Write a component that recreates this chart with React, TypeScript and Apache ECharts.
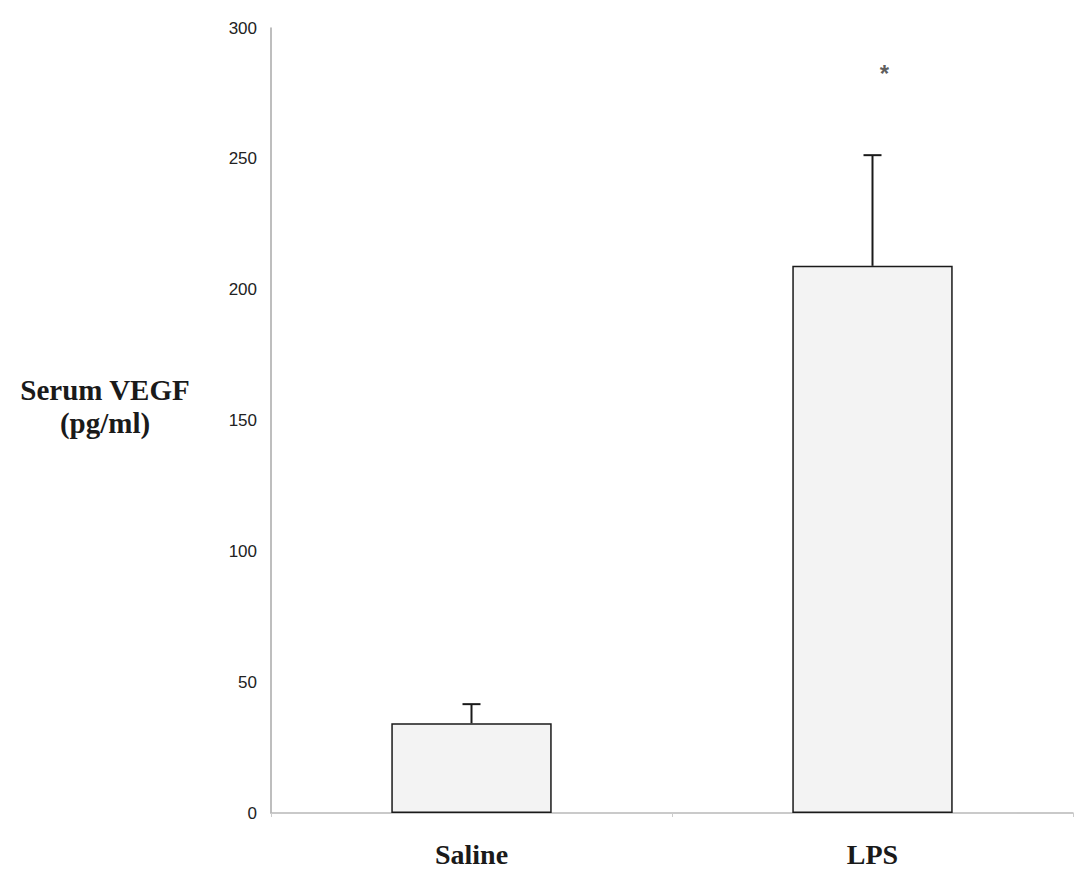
import React, { useEffect, useRef } from "react";
import * as echarts from "echarts";

// Serum VEGF (pg/ml), mean with upper SEM
const groups = ["Saline", "LPS"];
const means = [34.3, 209.1];
const upperErrors = [41.6, 251.4];
const significance = ["", "*"];
const significanceLevel = [0, 284];
const yTicks = { min: 0, max: 300, step: 50 };
const yTitleLines = ["Serum VEGF", "(pg/ml)"];

export default function App() {
  const ref = useRef<HTMLDivElement>(null);

  useEffect(() => {
    if (!ref.current) return;
    const chart = echarts.init(ref.current, null, { renderer: "svg" });

    const errorData = groups.map((_, i) => [i, means[i], upperErrors[i]]);
    const sigData = groups
      .map((_, i) => ({ value: [i, significanceLevel[i]], label: significance[i] }))
      .filter((d) => d.label !== "");

    const titleStyle = {
      align: "center",
      verticalAlign: "middle",
      fontFamily: "Liberation Serif",
      fontWeight: "bold",
      fontSize: 29,
      fill: "#1a1a1a",
    };

    chart.setOption({
      animation: false,
      backgroundColor: "#ffffff",
      grid: { left: 271, right: 8, top: 28, bottom: 58 },
      xAxis: {
        type: "category",
        data: groups,
        axisLine: { show: true, lineStyle: { color: "#b8b8b8", width: 1.5 } },
        axisTick: { show: true, alignWithLabel: false, length: 4, lineStyle: { color: "#cccccc" } },
        axisLabel: {
          margin: 27,
          fontFamily: "Liberation Serif",
          fontWeight: "bold",
          fontSize: 28,
          color: "#1a1a1a",
        },
      },
      yAxis: {
        type: "value",
        min: yTicks.min,
        max: yTicks.max,
        interval: yTicks.step,
        splitLine: { show: false },
        axisLine: { show: true, lineStyle: { color: "#a8a8a8", width: 1.5 } },
        axisTick: { show: false },
        axisLabel: {
          margin: 14,
          fontFamily: "Liberation Sans",
          fontSize: 17,
          color: "#222222",
        },
      },
      graphic: [
        { type: "text", x: 105, y: 390, style: { ...titleStyle, text: yTitleLines[0] } },
        { type: "text", x: 105, y: 423, style: { ...titleStyle, text: yTitleLines[1] } },
      ],
      series: [
        {
          type: "bar",
          data: means,
          barWidth: "40%",
          itemStyle: { color: "#f3f3f3", borderColor: "#1a1a1a", borderWidth: 1.5 },
          z: 2,
        },
        {
          type: "custom",
          data: errorData,
          z: 3,
          renderItem: (params: any, api: any) => {
            const i = api.value(0);
            const base = api.coord([i, api.value(1)]);
            const top = api.coord([i, api.value(2)]);
            const half = 9;
            const style = { stroke: "#1a1a1a", lineWidth: 2 };
            return {
              type: "group",
              children: [
                { type: "line", shape: { x1: base[0], y1: base[1], x2: top[0], y2: top[1] }, style },
                { type: "line", shape: { x1: top[0] - half, y1: top[1], x2: top[0] + half, y2: top[1] }, style },
              ],
            };
          },
        },
        {
          type: "scatter",
          data: sigData.map((d) => d.value),
          symbolSize: 0,
          label: {
            show: true,
            position: "inside",
            offset: [12, 4],
            formatter: (p: any) => sigData[p.dataIndex].label,
            fontFamily: "Liberation Sans",
            fontWeight: "bold",
            fontSize: 24,
            color: "#333333",
          },
          z: 4,
        },
      ],
    });

    return () => chart.dispose();
  }, []);

  return (
    <div
      ref={ref}
      style={{ position: "absolute", left: 0, top: 0, width: 1081, height: 871 }}
    />
  );
}
